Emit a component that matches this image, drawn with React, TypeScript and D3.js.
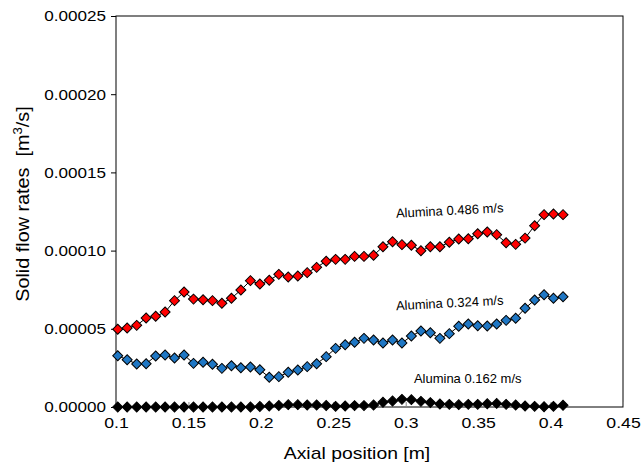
import { useEffect, useRef } from 'react';
import * as d3 from 'd3';

// axial positions [m]
const positions = [
  0.1012, 0.1077, 0.1143, 0.1208, 0.1274, 0.1339, 0.1404, 0.147, 0.1535, 0.1601,
  0.1666, 0.1731, 0.1797, 0.1862, 0.1928, 0.1993, 0.2058, 0.2124, 0.2189, 0.2255,
  0.232, 0.2385, 0.2451, 0.2516, 0.2582, 0.2647, 0.2712, 0.2778, 0.2843, 0.2909,
  0.2974, 0.3039, 0.3105, 0.317, 0.3236, 0.3301, 0.3366, 0.3432, 0.3497, 0.3563,
  0.3628, 0.3693, 0.3759, 0.3824, 0.389, 0.3955, 0.402, 0.4086,
];

// Alumina 0.486 m/s
const flow486 = [
  0.0000497, 0.0000505, 0.0000522, 0.0000569, 0.000058, 0.0000607, 0.000068, 0.0000735,
  0.000069, 0.0000686, 0.000068, 0.0000663, 0.0000695, 0.0000748, 0.0000808, 0.0000786,
  0.000081, 0.0000848, 0.0000831, 0.0000838, 0.0000859, 0.0000893, 0.0000932, 0.0000944,
  0.0000944, 0.0000963, 0.0000963, 0.000097, 0.0001025, 0.0001057, 0.0001038, 0.0001034,
  0.0000999, 0.0001025, 0.0001025, 0.0001053, 0.0001074, 0.0001076, 0.0001108, 0.0001119,
  0.0001102, 0.000105, 0.000104, 0.000108, 0.0001159, 0.000123, 0.0001234, 0.000123,
];

// Alumina 0.324 m/s
const flow324 = [
  0.0000328, 0.0000302, 0.0000275, 0.0000277, 0.0000326, 0.0000332, 0.0000313, 0.0000332,
  0.0000279, 0.0000286, 0.0000273, 0.0000247, 0.0000264, 0.0000251, 0.0000256, 0.0000238,
  0.000019, 0.0000194, 0.0000222, 0.0000237, 0.0000258, 0.0000277, 0.0000322, 0.0000375,
  0.0000398, 0.0000414, 0.0000439, 0.0000428, 0.0000409, 0.0000428, 0.0000409, 0.0000454,
  0.0000486, 0.0000475, 0.0000439, 0.0000469, 0.0000516, 0.0000531, 0.000052, 0.0000518,
  0.0000531, 0.0000554, 0.0000567, 0.0000631, 0.0000684, 0.0000718, 0.0000695, 0.0000705,
];

// Alumina 0.162 m/s
const flow162 = [
  0, 0, 0, 0, 0, 0, 0, 0, 0, 0, 0, 0, 0, 0, 0, 0.0000003,
  0.0000006, 0.000001, 0.0000015, 0.0000015, 0.0000013, 0.0000013, 0.000001, 0.0000004,
  0.0000006, 0.0000009, 0.0000009, 0.0000013, 0.000003, 0.0000038, 0.0000049, 0.0000047,
  0.0000036, 0.0000028, 0.0000019, 0.0000017, 0.0000015, 0.0000017, 0.0000017, 0.0000021,
  0.0000023, 0.0000017, 0.0000013, 0.0000006, 0.0000004, 0.0000002, 0.0000004, 0.0000011,
];

const xTicks = [0.1, 0.15, 0.2, 0.25, 0.3, 0.35, 0.4, 0.45];
const yTicks = [0, 0.00005, 0.0001, 0.00015, 0.0002, 0.00025];

const seriesList = [
  { name: 'Alumina 0.486 m/s', values: flow486, fill: '#ff0000', at: 0.3305, value: 0.0001228, angle: -3 },
  { name: 'Alumina 0.324 m/s', values: flow324, fill: '#1f77c4', at: 0.3305, value: 0.0000637, angle: -3 },
  { name: 'Alumina 0.162 m/s', values: flow162, fill: '#000000', at: 0.3428, value: 0.0000155, angle: 0 },
];

const FONT = '"Liberation Sans", Arial, sans-serif';
const STRETCH = 1.14; // 原圖文字橫向略寬

// 文字橫向拉寬
const stretchText = (sel, k) => {
  sel.each(function () {
    const w = this.getComputedTextLength();
    d3.select(this).attr('textLength', w * k).attr('lengthAdjust', 'spacingAndGlyphs');
  });
};

const App = () => {
  const svgRef = useRef<SVGSVGElement | null>(null);

  useEffect(() => {
    const W = 644;
    const H = 468;
    const margin = { top: 16, right: 21, bottom: 61, left: 116 };
    const width = W - margin.left - margin.right;
    const height = H - margin.top - margin.bottom;

    const root = d3.select(svgRef.current);
    root.selectAll('*').remove();

    const svg = root.append('g').attr('transform', `translate(${margin.left},${margin.top})`);

    const x = d3.scaleLinear().domain([0.1, 0.45]).range([0, width]);
    const y = d3.scaleLinear().domain([0, 0.00025]).range([height, 0]);

    // 框線
    svg
      .append('rect')
      .attr('width', width)
      .attr('height', height)
      .attr('fill', 'none')
      .attr('stroke', '#000')
      .attr('stroke-width', 1);

    // x 軸
    const xAxis = svg
      .append('g')
      .attr('transform', `translate(0,${height})`)
      .call(
        d3.axisBottom(x).tickValues(xTicks).tickSizeInner(-5).tickSizeOuter(0).tickPadding(10)
          .tickFormat((d) => String(d))
      );
    xAxis.select('.domain').remove();
    xAxis.selectAll('line').attr('stroke', '#888');
    xAxis.selectAll('text').style('font-family', FONT).style('font-size', '15.5px').attr('fill', '#000');
    stretchText(xAxis.selectAll('text'), STRETCH);

    // y 軸
    const yAxis = svg
      .append('g')
      .call(
        d3.axisLeft(y).tickValues(yTicks).tickSizeInner(5).tickSizeOuter(0).tickPadding(5)
          .tickFormat((d) => (d as number).toFixed(5))
      );
    yAxis.select('.domain').remove();
    yAxis.selectAll('line').attr('stroke', '#000');
    yAxis.selectAll('text').style('font-family', FONT).style('font-size', '15px').attr('fill', '#000');
    stretchText(yAxis.selectAll('text'), STRETCH);

    // 軸標題
    const xTitle = svg
      .append('text')
      .attr('x', 357 - margin.left)
      .attr('y', 459 - margin.top)
      .attr('text-anchor', 'middle')
      .style('font-family', FONT)
      .style('font-size', '17px')
      .text('Axial position [m]');
    stretchText(xTitle, STRETCH);

    const yTitle = svg
      .append('text')
      .attr('transform', `translate(${29 - margin.left},${204 - margin.top}) rotate(-90)`)
      .attr('text-anchor', 'middle')
      .style('font-family', FONT)
      .style('font-size', '18px')
      .style('white-space', 'pre');
    yTitle.append('tspan').text('Solid flow rates  [m');
    yTitle.append('tspan').attr('dy', -7).style('font-size', '12px').text('3');
    yTitle.append('tspan').attr('dy', 7).text('/s]');
    stretchText(yTitle, 1.1);

    const line = d3
      .line<number>()
      .x((_, i) => x(positions[i]))
      .y((d) => y(d));

    const diamond = d3.symbol().type(d3.symbolSquare).size(50);

    seriesList.forEach((s) => {
      svg
        .append('path')
        .attr('d', line(s.values))
        .attr('fill', 'none')
        .attr('stroke', '#000')
        .attr('stroke-width', 1);

      svg
        .append('g')
        .selectAll('path')
        .data(s.values)
        .join('path')
        .attr('d', diamond)
        .attr('transform', (d, i) => `translate(${x(positions[i])},${y(d)}) rotate(45)`)
        .attr('fill', s.fill)
        .attr('stroke', '#000')
        .attr('stroke-width', 1);

      svg
        .append('text')
        .attr('transform', `translate(${x(s.at)},${y(s.value)}) rotate(${s.angle})`)
        .attr('text-anchor', 'middle')
        .style('font-family', FONT)
        .style('font-size', '13px')
        .text(s.name);
    });
  }, []);

  return (
    <svg
      ref={svgRef}
      width={644}
      height={468}
      style={{ position: 'absolute', left: 0, top: 0, background: '#fff' }}
    />
  );
};

export default App;
